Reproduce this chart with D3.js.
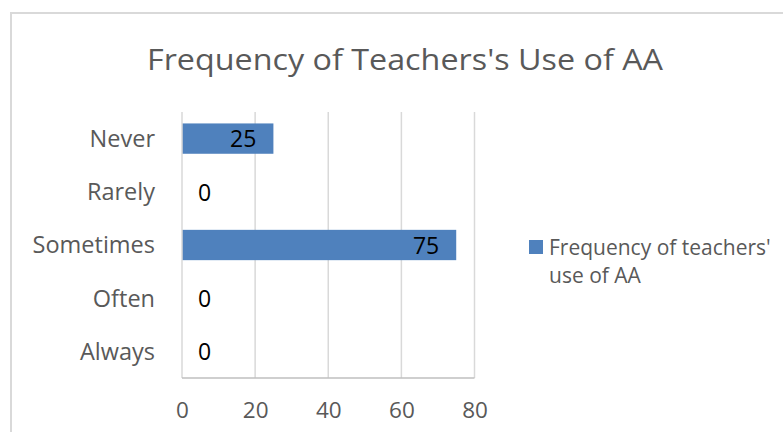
<!DOCTYPE html>
<html>
<head>
<meta charset="utf-8">
<script src="https://cdn.jsdelivr.net/npm/d3@7"></script>
<style>
  html, body { margin: 0; padding: 0; background: #fff; }
  svg { display: block; font-family: "Open Sans", "Noto Sans", sans-serif; }
</style>
</head>
<body>
<svg id="chart" width="783" height="432"></svg>
<script>
// Survey results: how often teachers use AA
const categories = ["Never", "Rarely", "Sometimes", "Often", "Always"];
const values = [25, 0, 75, 0, 0];
const xTicks = [0, 20, 40, 60, 80];
const chartTitle = "Frequency of Teachers's Use of AA";
const legendLines = ["Frequency of teachers'", "use of AA"];

const svg = d3.select("#chart");

// Chart frame
svg.append("path")
  .attr("d", "M11,432 V13 H783")
  .attr("fill", "none")
  .attr("stroke", "#d9d9d9")
  .attr("stroke-width", 2);

// Title
svg.append("text")
  .attr("x", 405).attr("y", 70)
  .attr("text-anchor", "middle")
  .attr("font-size", 29)
  .attr("fill", "#595959")
  .attr("textLength", 516)
  .attr("lengthAdjust", "spacingAndGlyphs")
  .text(chartTitle);

const plot = { left: 182, right: 474.5, top: 112, bottom: 378 };

const x = d3.scaleLinear()
  .domain([xTicks[0], xTicks[xTicks.length - 1]])
  .range([plot.left, plot.right]);

const y = d3.scaleBand()
  .domain(categories)
  .range([plot.top, plot.bottom])
  .paddingInner(0.43)
  .paddingOuter(0.215);

// Vertical gridlines
svg.append("g")
  .selectAll("line")
  .data(xTicks.slice(1))
  .join("line")
  .attr("x1", d => x(d)).attr("x2", d => x(d))
  .attr("y1", plot.top).attr("y2", plot.bottom)
  .attr("stroke", "#d9d9d9")
  .attr("stroke-width", 1.5);

// Bars
svg.append("g")
  .selectAll("rect")
  .data(categories)
  .join("rect")
  .attr("x", x(0))
  .attr("y", d => y(d))
  .attr("width", (d, i) => x(values[i]) - x(0))
  .attr("height", y.bandwidth())
  .attr("fill", "#4f81bd");

// Category axis line
svg.append("line")
  .attr("x1", plot.left).attr("x2", plot.left)
  .attr("y1", plot.top).attr("y2", plot.bottom)
  .attr("stroke", "#d9d9d9").attr("stroke-width", 1.5);

// Value axis line
svg.append("line")
  .attr("x1", plot.left).attr("x2", plot.right)
  .attr("y1", plot.bottom).attr("y2", plot.bottom)
  .attr("stroke", "#bfbfbf").attr("stroke-width", 1.5);

// Category labels
const yAxis = svg.append("g")
  .attr("transform", `translate(${plot.left},0)`)
  .call(d3.axisLeft(y).tickSize(0).tickPadding(27));
yAxis.select(".domain").remove();
yAxis.selectAll("text")
  .attr("font-family", "\"Open Sans\", sans-serif")
  .attr("font-size", 23.5)
  .attr("fill", "#595959")
  .attr("dy", "0.36em");

// Value tick labels
const xAxis = svg.append("g")
  .attr("transform", `translate(0,${plot.bottom})`)
  .call(d3.axisBottom(x).tickValues(xTicks).tickSize(0).tickPadding(24));
xAxis.select(".domain").remove();
xAxis.selectAll("text")
  .attr("font-family", "\"Open Sans\", sans-serif")
  .attr("font-size", 22.5)
  .attr("fill", "#595959");

// Data labels: inside end of the bar, or just right of the axis for zero
svg.append("g")
  .selectAll("text")
  .data(categories)
  .join("text")
  .attr("x", (d, i) => values[i] > 0 ? x(values[i]) - 17 : x(0) + 16)
  .attr("y", d => y(d) + y.bandwidth() / 2)
  .attr("dy", "0.38em")
  .attr("text-anchor", (d, i) => values[i] > 0 ? "end" : "start")
  .attr("font-size", 23)
  .attr("fill", "#000")
  .text((d, i) => values[i]);

// Legend
const legend = svg.append("g");
legend.append("rect")
  .attr("x", 529).attr("y", 240)
  .attr("width", 14).attr("height", 14)
  .attr("fill", "#4f81bd");
legend.selectAll("text")
  .data(legendLines)
  .join("text")
  .attr("x", 549)
  .attr("y", (d, i) => 255 + i * 28)
  .attr("font-size", 21)
  .attr("fill", "#595959")
  .text(d => d);
</script>
</body>
</html>
